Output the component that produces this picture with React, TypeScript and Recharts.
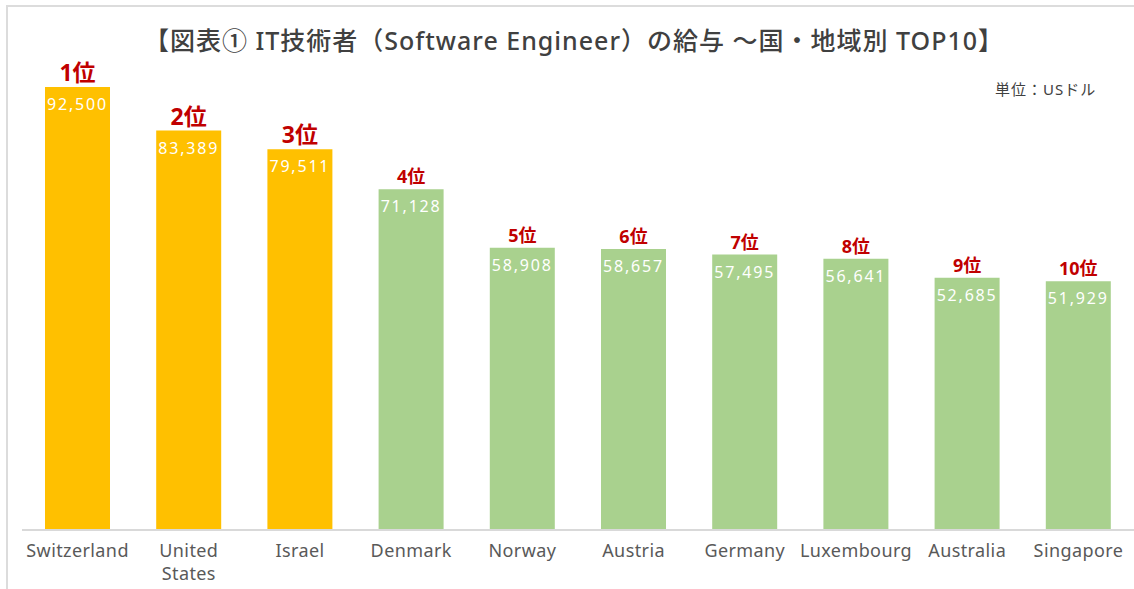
import { BarChart, Bar, XAxis, YAxis, Cell, LabelList } from 'recharts';

const countries = ['Switzerland', 'United\nStates', 'Israel', 'Denmark', 'Norway', 'Austria', 'Germany', 'Luxembourg', 'Australia', 'Singapore'];
const salaries = [92500, 83389, 79511, 71128, 58908, 58657, 57495, 56641, 52685, 51929];
const ranks = ['1位', '2位', '3位', '4位', '5位', '6位', '7位', '8位', '9位', '10位'];

const GOLD = '#FFC000';
const GREEN = '#A9D18E';
const FONT = '"Noto Sans", "Noto Sans CJK JP", sans-serif';

const data = countries.map((name, i) => ({ name, salary: salaries[i], rank: ranks[i] }));

function CountryTick({ x, y, payload }: any) {
  const lines = String(payload.value).split('\n');
  return (
    <text x={x} y={y} textAnchor="middle" fill="#595959" fontSize={18} letterSpacing={0.4} fontFamily={FONT}>
      {lines.map((l, i) => (
        <tspan key={i} x={x} dy={i === 0 ? '0.71em' : 23}>{l}</tspan>
      ))}
    </text>
  );
}

function RankLabel({ x, y, width, value, index }: any) {
  const big = index < 3;
  return (
    <text x={x + width / 2} y={y - 6} textAnchor="middle" fill="#C00000" fontWeight="bold"
      fontSize={big ? 23 : 18} fontFamily={FONT}>
      {value}
    </text>
  );
}

function ValueLabel({ x, y, width, value }: any) {
  return (
    <text x={x + width / 2} y={y + 23} textAnchor="middle" fill="#fff" fontSize={16}
      letterSpacing={1.8} fontFamily={FONT}>
      {Number(value).toLocaleString('en-US')}
    </text>
  );
}

export default function App() {
  return (
    <div style={{ position: 'absolute', left: 0, top: 0, width: 1134, height: 589, background: '#fff', overflow: 'hidden' }}>
      <div style={{ position: 'absolute', left: 6, top: 5, width: 1128, height: 584, borderTop: '2px solid #dcdcdc', borderLeft: '2px solid #dcdcdc' }} />
      <div style={{ position: 'absolute', left: 0, top: 21, width: 1148, textAlign: 'center', fontFamily: FONT, fontSize: 25, fontWeight: 500, letterSpacing: 1, color: '#404040' }}>
        【図表① IT技術者（Software Engineer）の給与 ～国・地域別 TOP10】
      </div>
      <div style={{ position: 'absolute', left: 995, top: 78, fontFamily: FONT, fontSize: 15, letterSpacing: 1, color: '#404040' }}>
        単位：USドル
      </div>
      <div style={{ position: 'absolute', left: 0, top: 0 }}>
        <BarChart width={1134} height={589} data={data} margin={{ top: 51, right: 0, bottom: 0, left: 22 }}>
          <YAxis hide domain={[0, 100000]} />
          <XAxis dataKey="name" height={59} axisLine={{ stroke: '#d9d9d9', strokeWidth: 2 }} tickLine={false}
            tickMargin={8} interval={0} tick={<CountryTick />} />
          <Bar dataKey="salary" barSize={65} isAnimationActive={false}>
            {data.map((_, i) => (
              <Cell key={i} fill={i < 3 ? GOLD : GREEN} />
            ))}
            <LabelList dataKey="rank" content={<RankLabel />} />
            <LabelList dataKey="salary" content={<ValueLabel />} />
          </Bar>
        </BarChart>
      </div>
    </div>
  );
}
